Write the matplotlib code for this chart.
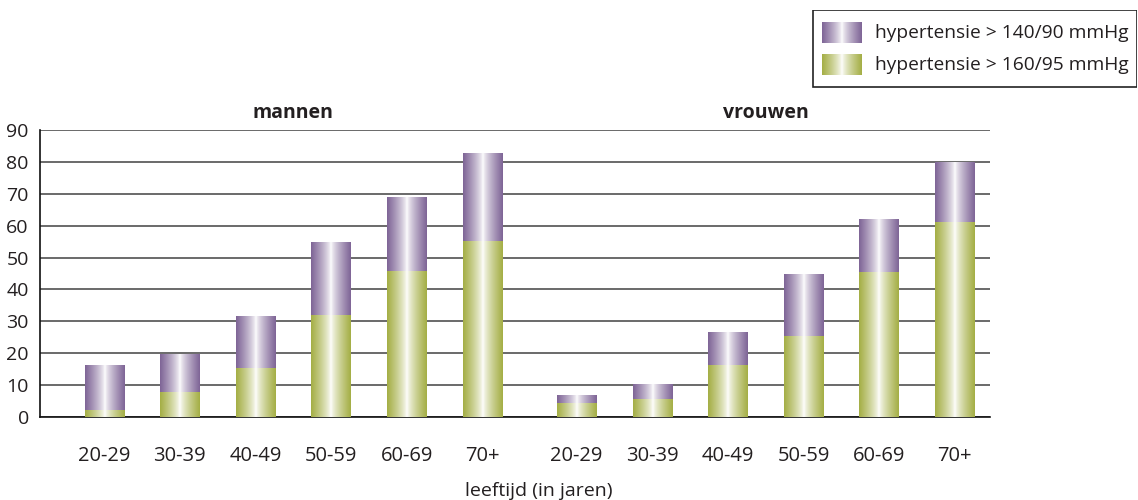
import numpy as np
import matplotlib
matplotlib.use("Agg")
import matplotlib.pyplot as plt
from matplotlib.colors import to_rgb
from matplotlib.patches import Rectangle

plt.rcParams["font.family"] = ["Open Sans", "DejaVu Sans"]

# --- data: prevalence of hypertension (%) by age group ---
age_groups = ["20-29", "30-39", "40-49", "50-59", "60-69", "70+"]
men_140 = [16.3, 19.8, 31.8, 54.6, 68.8, 82.8]     # > 140/90 mmHg (total bar)
men_160 = [2.2, 7.9, 15.5, 32.0, 45.8, 55.3]       # > 160/95 mmHg (lower part)
women_140 = [6.9, 10.3, 26.7, 44.9, 62.1, 79.8]
women_160 = [4.5, 5.6, 16.4, 25.5, 45.6, 61.2]
group_names = ["mannen", "vrouwen"]
legend_labels = ["hypertensie > 140/90 mmHg", "hypertensie > 160/95 mmHg"]

INK = "#231f20"
PURPLE = "#7e6496"
GREEN = "#a4ae44"
GRID = "#505050"
FS = 14


def shaded(color, n=256):
    """Horizontal metallic gradient: colour at the edges, white in the middle."""
    c = np.array(to_rgb(color))
    u = np.linspace(0, 1, n)
    t = np.clip(np.abs(u - 0.5) * 2, 0, 1) ** 0.75
    rgb = (1 - t)[:, None] * np.ones(3) + t[:, None] * c
    return rgb[None, :, :]


fig = plt.figure(figsize=(11.38, 5.0), dpi=100)
ax = fig.add_axes([0.0351, 0.166, 0.835, 0.574])

W = 0.52
x_men = np.arange(6)
x_women = np.arange(6) + 6.25
xs = np.concatenate([x_men, x_women])
low = np.array(men_160 + women_160)
high = np.array(men_140 + women_140)

bars_low = ax.bar(xs, low, W, color="none", lw=0, zorder=3)
bars_high = ax.bar(xs, high - low, W, bottom=low, color="none", lw=0, zorder=3)

# fill each bar with a gradient image
for bars, col in [(bars_low, GREEN), (bars_high, PURPLE)]:
    img = shaded(col)
    for p in bars:
        x0, y0 = p.get_x(), p.get_y()
        ax.imshow(img, extent=[x0, x0 + p.get_width(), y0, y0 + p.get_height()],
                  aspect="auto", interpolation="bilinear", zorder=3)

ax.set_xlim(-0.85, 11.72)
ax.set_ylim(0, 90)
ax.set_yticks(range(0, 91, 10))
ax.yaxis.grid(True, color=GRID, lw=1.2, zorder=0)
ax.set_axisbelow(True)
ax.set_xticks(xs)
ax.set_xticklabels(age_groups * 2)
ax.tick_params(axis="both", length=0, labelsize=FS, colors=INK)
ax.tick_params(axis="x", labelsize=14.5, pad=21)
ax.tick_params(axis="y", pad=8)
for s in ["top", "right"]:
    ax.spines[s].set_visible(False)
for s in ["left", "bottom"]:
    ax.spines[s].set_color("#111111")
    ax.spines[s].set_linewidth(1.2)

ax.set_xlabel("leeftijd (in jaren)", fontsize=FS, color=INK)
ax.xaxis.set_label_coords(0.525, -0.225)

# group headings
for name, grp in zip(group_names, [x_men, x_women]):
    ax.text(grp.mean(), 1.025, name, transform=ax.get_xaxis_transform(),
            ha="center", va="bottom", fontsize=FS, fontweight="bold", color=INK)

# legend box drawn by hand so the swatches keep their gradient
lax = fig.add_axes([812 / 1138, 1 - 88 / 500, 325 / 1138, 78 / 500])
lax.set_axis_off()
lax.add_patch(Rectangle((0.5, 0.5), 324, 77, fill=False, ec="#222222", lw=1.2))
for i, (lab, col) in enumerate(zip(legend_labels, [PURPLE, GREEN])):
    y0 = 12 + i * 32
    lax.imshow(shaded(col), extent=[10, 50, y0 + 21, y0], aspect="auto",
               interpolation="bilinear")
    lax.text(63, y0 + 11, lab, ha="left", va="center", fontsize=13.8, color=INK)
lax.set_xlim(0, 325)
lax.set_ylim(78, 0)

fig.savefig("out.png", dpi=100, facecolor="white")
